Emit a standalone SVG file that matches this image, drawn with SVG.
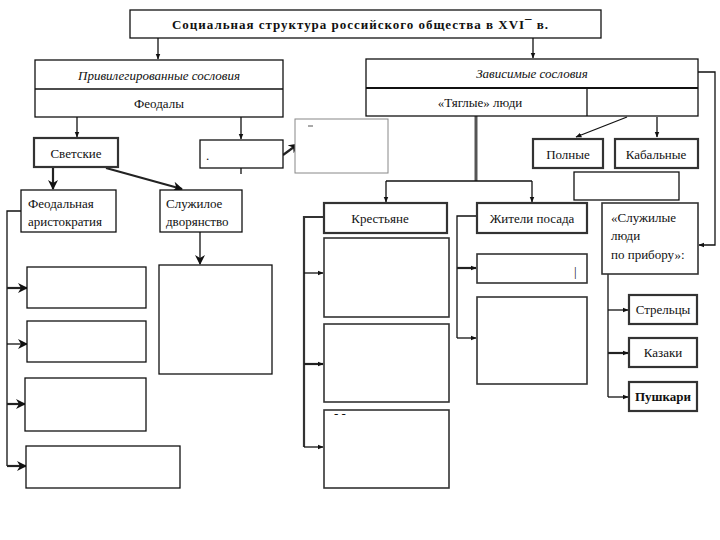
<svg xmlns="http://www.w3.org/2000/svg" width="720" height="540" viewBox="0 0 720 540">
<style>
.b{fill:#fff;stroke:#111;stroke-width:1.3}
.t{fill:#fff;stroke:#333;stroke-width:2.2}
.m{fill:#fff;stroke:#333;stroke-width:1.6}
.g{fill:#fff;stroke:#888;stroke-width:1}
text{font-family:"Liberation Serif","DejaVu Serif",serif;font-size:13px;fill:#111}
.c{text-anchor:middle}
.i{font-style:italic}
.l{fill:none;stroke:#111;stroke-width:1.3}
.k{fill:none;stroke:#222;stroke-width:2.2}
</style>
<defs>
<marker id="a" viewBox="0 0 10 10" refX="9" refY="5" markerWidth="6" markerHeight="6" orient="auto" markerUnits="userSpaceOnUse"><path d="M0,1 L10,5 L0,9 Z" fill="#111"/></marker>
<marker id="A" viewBox="0 0 10 10" refX="9" refY="5" markerWidth="10" markerHeight="10" orient="auto" markerUnits="userSpaceOnUse"><path d="M0,0 L10,5 L0,10 L3,5 Z" fill="#111"/></marker>
</defs>
<g id="connectors">
<path class="l" d="M158,38 V59" marker-end="url(#a)"/>
<path class="l" d="M533,38 V58" marker-end="url(#a)"/>
<path class="l" d="M77,117 V137" marker-end="url(#a)"/>
<path class="l" d="M241,117 V139" marker-end="url(#a)"/>
<path class="l" d="M241,168 V174"/>
<path class="k" d="M283,155 L298,144" marker-end="url(#A)"/>
<path class="k" d="M53,167 V189" marker-end="url(#A)"/>
<path class="k" d="M106,168 L182,189" marker-end="url(#A)"/>
<path class="l" d="M21,211 H7 V466"/>
<path class="k" d="M7,288 H27" marker-end="url(#A)"/>
<path class="l" d="M7,344 H27" marker-end="url(#A)"/>
<path class="k" d="M7,404 H25" marker-end="url(#A)"/>
<path class="k" d="M7,466 H26" marker-end="url(#A)"/>
<path class="l" d="M200,232 V264" marker-end="url(#A)"/>
<path class="l" d="M698,72 H715 V245 H699" marker-end="url(#a)"/>
<path d="M476,116 V181" fill="none" stroke="#555" stroke-width="3"/>
<path class="l" d="M386,181 H532"/>
<path class="l" d="M386,181 V202" marker-end="url(#a)"/>
<path class="l" d="M532,181 V202" marker-end="url(#a)"/>
<path class="l" d="M627,117 L576,137" marker-end="url(#a)"/>
<path class="l" d="M657,117 V137" marker-end="url(#a)"/>
<path d="M324,217 H304 V447" fill="none" stroke="#333" stroke-width="2.2"/>
<path class="l" d="M304,273 H323" marker-end="url(#a)"/>
<path class="k" d="M304,364 H323" marker-end="url(#a)"/>
<path class="l" d="M304,447 H323" marker-end="url(#a)"/>
<path class="l" d="M477,216 H457 V338"/>
<path class="k" d="M457,268 H476" marker-end="url(#a)"/>
<path class="l" d="M457,338 H476" marker-end="url(#a)"/>
<path class="l" d="M608,274 V397"/>
<path class="l" d="M608,310 H628" marker-end="url(#a)"/>
<path class="k" d="M608,353 H628" marker-end="url(#a)"/>
<path class="l" d="M608,397 H628" marker-end="url(#a)"/>
</g>
<g id="title"><rect class="b" x="130" y="10" width="471" height="28"/><text x="172" y="29" font-weight="bold" font-size="15" textLength="376" lengthAdjust="spacing">Социальная структура российского общества в XVI¯ в.</text></g>
<g id="privileged"><rect class="b" x="35" y="60" width="248" height="57"/><line class="l" x1="35" y1="89" x2="283" y2="89"/><text class="c i" x="159" y="80">Привилегированные сословия</text><text class="c" x="159" y="108">Феодалы</text></g>
<g id="svetskie"><rect class="t" x="34" y="138" width="84" height="29"/><text class="c" x="76" y="158">Светские</text></g>
<g id="empty1"><rect class="b" x="200" y="140" width="83" height="28"/><text x="206" y="160" font-size="8">.</text></g>
<g id="empty2"><rect class="g" x="295" y="119" width="93" height="54"/><line x1="308" y1="126" x2="313" y2="126" stroke="#555"/></g>
<g id="aristokratia"><rect class="b" x="21" y="190" width="95" height="42"/><text x="28" y="208" font-size="12">Феодальная</text><text x="28" y="226" font-size="12">аристократия</text></g>
<g id="dvoryanstvo"><rect class="b" x="160" y="190" width="82" height="42"/><text x="166" y="208" font-size="12">Служилое</text><text x="166" y="226" font-size="12">дворянство</text></g>
<g id="l1"><rect class="b" x="27" y="267" width="119" height="41"/></g>
<g id="l2"><rect class="b" x="27" y="321" width="119" height="41"/></g>
<g id="l3"><rect class="b" x="25" y="378" width="121" height="53"/></g>
<g id="l4"><rect class="b" x="26" y="446" width="154" height="42"/></g>
<g id="dv1"><rect class="b" x="159" y="265" width="113" height="109"/></g>
<g id="dependent"><rect class="b" x="366" y="59" width="332" height="57"/><line x1="366" y1="88" x2="698" y2="88" stroke="#111" stroke-width="2.2"/><line class="l" x1="587" y1="88" x2="587" y2="116"/><text class="c i" x="532" y="78">Зависимые сословия</text><text class="c" x="480" y="107">«Тяглые» люди</text></g>
<g id="polnye"><rect class="t" x="533" y="139" width="70" height="29"/><text class="c" x="568" y="159">Полные</text></g>
<g id="kabalnye"><rect class="t" x="615" y="139" width="83" height="29"/><text class="c" x="656" y="159">Кабальные</text></g>
<g id="empty3"><rect class="b" x="574" y="172" width="105" height="28"/></g>
<g id="krestyane"><rect class="t" x="324" y="203" width="123" height="30"/><text class="c" x="380" y="223">Крестьяне</text></g>
<g id="posad"><rect class="t" x="477" y="203" width="110" height="30"/><text class="c" x="532" y="223">Жители посада</text></g>
<g id="sluzhilye"><rect class="m" x="602" y="203" width="96" height="71"/><text x="611" y="222">«Служилые</text><text x="611" y="240">люди</text><text x="611" y="259">по прибору»:</text></g>
<g id="k1"><rect class="m" x="324" y="238" width="125" height="79"/></g>
<g id="k2"><rect class="m" x="324" y="324" width="125" height="78"/></g>
<g id="k3"><rect class="m" x="324" y="410" width="125" height="78"/><text x="334" y="418" font-size="8">- -</text></g>
<g id="p1"><rect class="m" x="477" y="254" width="110" height="29"/><text x="574" y="276" font-size="11">|</text></g>
<g id="p2"><rect class="m" x="477" y="297" width="110" height="87"/></g>
<g id="streltsy"><rect class="t" x="629" y="295" width="68" height="29"/><text class="c" x="663" y="314">Стрельцы</text></g>
<g id="kazaki"><rect class="t" x="629" y="338" width="68" height="29"/><text class="c" x="663" y="357">Казаки</text></g>
<g id="pushkari"><rect class="t" x="629" y="382" width="68" height="29"/><text class="c" x="663" y="401" font-weight="bold">Пушкари</text></g>
</svg>
